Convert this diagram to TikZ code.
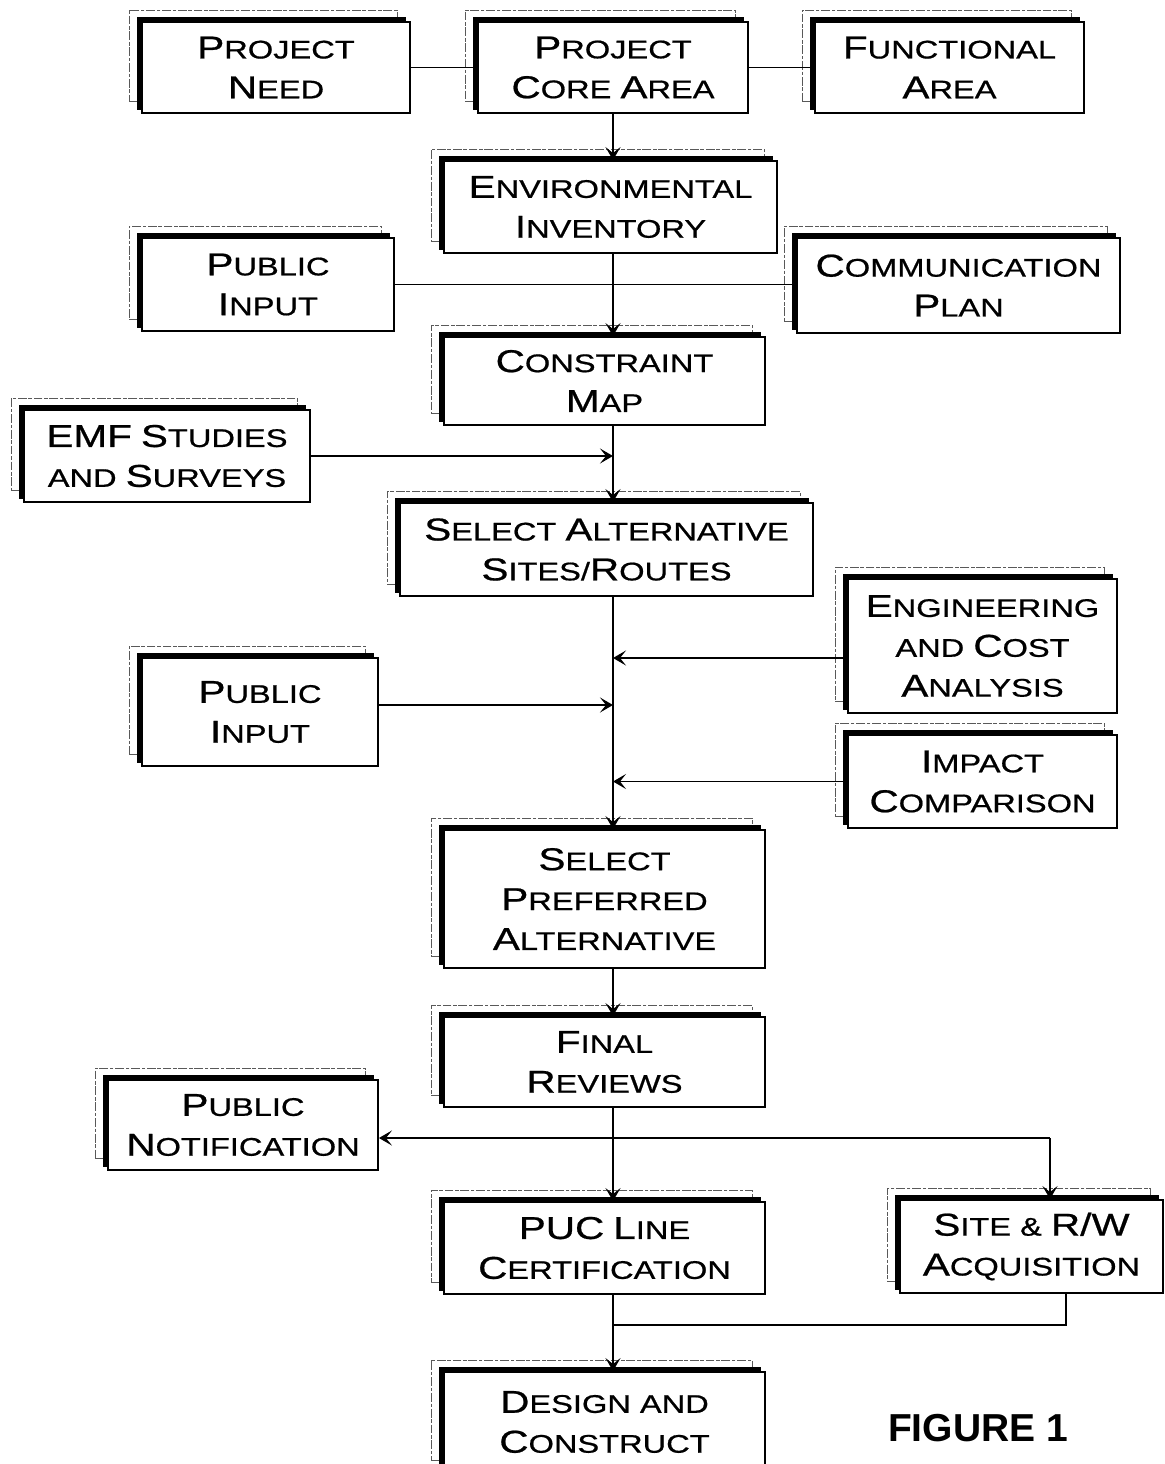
\documentclass[tikz,border=0pt]{standalone}
\usepackage{fontspec}
\setmainfont{Liberation Sans}
\newfontfamily\boxfont[FakeStretch=1.28,FakeBold=0.7]{Liberation Sans}
\usepackage{tikz}
\usetikzlibrary{shadows,arrows.meta}
\newcommand\capw[2]{{\fontsize{18}{22.7}\selectfont #1}#2}

\begin{document}
\begin{tikzpicture}[x=0.02cm,y=-0.02cm,
    stack/.style={draw,line width=1.1pt,fill=white,inner sep=2pt,align=center,
      font=\boxfont\fontsize{14.5}{22.7}\selectfont,
      general shadow={shadow xshift=-0.26cm,shadow yshift=0.24cm,draw=black!65,
        fill=white,line width=0.5pt,dash pattern=on 5pt off 1pt on 2pt off 1pt},
      general shadow={shadow xshift=-0.09cm,shadow yshift=0.08cm,fill=black,draw=black}},
    link/.style={line width=1.1pt},
    flow/.style={link,-{Stealth[length=0.26cm,width=0.3cm,inset=0.12cm]}}]
    \useasboundingbox (0,0) rectangle (1165,1464);
    \coordinate (spine) at (613,0);
    \node[stack,minimum width=5.36cm,minimum height=1.82cm] (need) at (276,67.5) {\capw{P}{ROJECT}\\\capw{N}{EED}};
    \node[stack,minimum width=5.40cm,minimum height=1.82cm] (core) at (613,67.5) {\capw{P}{ROJECT}\\\capw{C}{ORE} \capw{A}{REA}};
    \node[stack,minimum width=5.38cm,minimum height=1.82cm] (func) at (949.5,67.5) {\capw{F}{UNCTIONAL}\\\capw{A}{REA}};
    \node[stack,minimum width=6.66cm,minimum height=1.84cm] (env) at (610.5,207) {\capw{E}{NVIRONMENTAL}\\\capw{I}{NVENTORY}};
    \node[stack,minimum width=5.04cm,minimum height=1.86cm] (pin1) at (268,284.5) {\capw{P}{UBLIC}\\\capw{I}{NPUT}};
    \node[stack,minimum width=6.46cm,minimum height=1.90cm] (comm) at (958.5,285.5) {\capw{C}{OMMUNICATION}\\\capw{P}{LAN}};
    \node[stack,minimum width=6.42cm,minimum height=1.76cm] (cons) at (604.5,381) {\capw{C}{ONSTRAINT}\\\capw{M}{AP}};
    \node[stack,minimum width=5.72cm,minimum height=1.84cm] (emf) at (167,456) {\capw{EMF}{} \capw{S}{TUDIES}\\AND \capw{S}{URVEYS}};
    \node[stack,minimum width=8.26cm,minimum height=1.86cm] (salt) at (606.5,549.5) {\capw{S}{ELECT} \capw{A}{LTERNATIVE}\\\capw{S}{ITES}/\capw{R}{OUTES}};
    \node[stack,minimum width=5.38cm,minimum height=2.68cm] (eng) at (982.5,646) {\capw{E}{NGINEERING}\\AND \capw{C}{OST}\\\capw{A}{NALYSIS}};
    \node[stack,minimum width=4.72cm,minimum height=2.16cm] (pin2) at (260,712) {\capw{P}{UBLIC}\\\capw{I}{NPUT}};
    \node[stack,minimum width=5.38cm,minimum height=1.86cm] (imp) at (982.5,781.5) {\capw{I}{MPACT}\\\capw{C}{OMPARISON}};
    \node[stack,minimum width=6.42cm,minimum height=2.76cm] (spref) at (604.5,899) {\capw{S}{ELECT}\\\capw{P}{REFERRED}\\\capw{A}{LTERNATIVE}};
    \node[stack,minimum width=6.42cm,minimum height=1.80cm] (final) at (604.5,1062) {\capw{F}{INAL}\\\capw{R}{EVIEWS}};
    \node[stack,minimum width=5.40cm,minimum height=1.80cm] (pnot) at (243,1125) {\capw{P}{UBLIC}\\\capw{N}{OTIFICATION}};
    \node[stack,minimum width=6.42cm,minimum height=1.84cm] (puc) at (604.5,1248) {\capw{PUC}{} \capw{L}{INE}\\\capw{C}{ERTIFICATION}};
    \node[stack,minimum width=5.26cm,minimum height=1.86cm] (site) at (1031.5,1246.5) {\capw{S}{ITE} \& \capw{R/W}{}\\\capw{A}{CQUISITION}};
    \node[stack,minimum width=6.42cm,minimum height=2.00cm] (design) at (604.5,1422) {\capw{D}{ESIGN} AND\\\capw{C}{ONSTRUCT}};
    \node[font=\bfseries\fontsize{22.2}{26}\selectfont] (fig) at (978,1428) {FIGURE 1};
    \coordinate (tee) at (1050,1138);
    \coordinate (rj) at (1066,1325);
    \draw[link] (need) -- (core);
    \draw[link] (core) -- (func);
    \draw[flow] (core.south) -- (core.south |- env.north);
    \draw[flow] (env.south -| spine) -- (cons.north -| spine);
    \draw[link] (pin1.east) -- (pin1.east -| comm.west);
    \draw[flow] (cons.south -| spine) -- (salt.north -| spine);
    \draw[flow] (emf.east) -- (emf.east -| spine);
    \draw[flow] (salt.south -| spine) -- (spref.north -| spine);
    \draw[flow] ([yshift=-0.24cm]eng.west) -- ([yshift=-0.24cm]eng.west -| spine);
    \draw[flow] ([yshift=0.14cm]pin2.east) -- ([yshift=0.14cm]pin2.east -| spine);
    \draw[flow] (imp.west) -- (imp.west -| spine);
    \draw[flow] (spref.south -| spine) -- (final.north -| spine);
    \draw[flow] (final.south -| spine) -- (puc.north -| spine);
    \draw[flow] (tee) -- (tee -| pnot.east);
    \draw[flow] (tee) -- (tee |- site.north);
    \draw[flow] (puc.south -| spine) -- (design.north -| spine);
    \draw[link] (rj |- site.south) -- (rj) -- (rj -| spine);
\end{tikzpicture}
\end{document}
